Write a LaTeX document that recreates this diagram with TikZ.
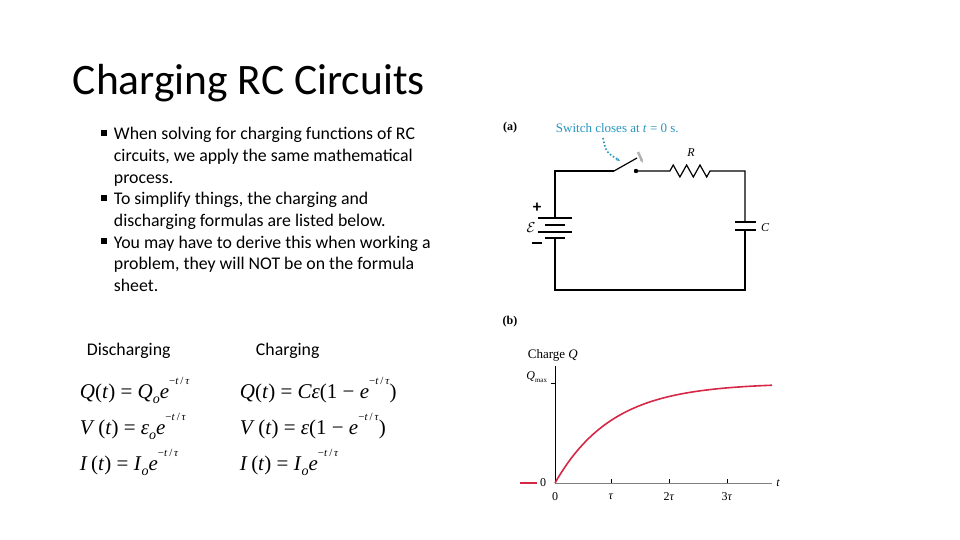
\documentclass[tikz,border=0pt]{standalone}
\usepackage{fontspec}
\setmainfont{Carlito}
\newfontfamily\figfont{Liberation Serif}
\usetikzlibrary{arrows.meta}
\definecolor{curvered}{RGB}{214,40,70}
\definecolor{noteblue}{RGB}{40,150,190}
\newcommand{\sub}[1]{\raisebox{-0.25em}{\fontsize{14}{14}\selectfont\textit{#1}}}
\newcommand{\expo}{\raisebox{0.62em}{\fontsize{11}{11}\selectfont −\textit{t}\,/\,\textit{τ}}}

\begin{document}
\begin{tikzpicture}[x=1pt,y=-1pt,line width=1.2pt,
  bullet text/.style={anchor=base west,font=\fontsize{17.8}{21}\selectfont},
  fig label/.style={font=\figfont\fontsize{13}{15}\selectfont},
  eq/.style={anchor=base west,font=\figfont\fontsize{21}{24}\selectfont}]
\useasboundingbox (0,0) rectangle (960,540);
% Title and bullets
\node[anchor=base west,font=\fontsize{43.5}{50}\selectfont] (title) at (69,95) {Charging RC Circuits};
\foreach \yb in {134,199,242}
  \fill (101,\yb-4) rectangle (107,\yb+2);
\foreach \txt [count=\i] in {When solving for charging functions of RC,
  circuits{,} we apply the same mathematical, process.,
  To simplify things{,} the charging and, discharging formulas are listed below.,
  You may have to derive this when working a, problem{,} they will NOT be on the formula, sheet.}
  \node[bullet text] (b\i) at (110,{118+\i*21.7}) {\txt};
\node[anchor=base west,font=\fontsize{17.8}{21}\selectfont] (dis) at (83,355) {Discharging};
\node[anchor=base west,font=\fontsize{17.8}{21}\selectfont] (chg) at (252,355) {Charging};
% Formulas
\node[eq] (q1) at (76,398) {\textit{Q}(\textit{t}) = \textit{Q}\sub{o}\textit{e}\expo};
\node[eq] (v1) at (76,434) {\textit{V}\,(\textit{t}) = \textit{ε}\sub{o}\textit{e}\expo};
\node[eq] (i1) at (76,470) {\textit{I}\,(\textit{t}) = \textit{I}\sub{o}\textit{e}\expo};
\node[eq] (q2) at (236,398) {\textit{Q}(\textit{t}) = \textit{Cε}(1 − \textit{e}\expo)};
\node[eq] (v2) at (236,434) {\textit{V}\,(\textit{t}) = \textit{ε}(1 − \textit{e}\expo)};
\node[eq] (i2) at (236,470) {\textit{I}\,(\textit{t}) = \textit{I}\sub{o}\textit{e}\expo};
% Circuit (a)
\node[fig label,font=\figfont\bfseries\fontsize{12}{14}\selectfont] (la) at (510,128) {(a)};
\node[fig label,text=noteblue,anchor=west] (note) at (552,128) {Switch closes at \textit{t} = 0 s.};
\coordinate (sw1) at (614,171);
\coordinate (sw2) at (636,171);
\draw (sw1) -- (555,171) -- (555,218);
\draw (555,237) -- (555,290) -- (745,290) -- (745,230);
\draw (745,222) -- (745,171) -- (710,171)
  -- ++(-3.3,6) -- ++(-6.7,-12) -- ++(-6.7,12) -- ++(-6.7,-12) -- ++(-6.7,12) -- ++(-6.7,-12) -- ++(-3.3,6)
  -- (sw2);
\draw (sw1) -- (637,158);
\fill (sw2) circle (2.2);
\draw[line width=1.6pt] (538,218) -- (572,218) (538,232) -- (572,232);
\draw[line width=2.6pt] (545,225) -- (565,225) (545,238) -- (565,238);
\draw[line width=1.6pt] (735,222) -- (756,222) (735,230) -- (756,230);
\node[font=\bfseries\fontsize{17}{18}\selectfont] (plus) at (537,208) {+};
\node[fig label,font=\fontsize{15}{16}\selectfont] (emf) at (531,228) {$\mathcal{E}$};
\draw[line width=1.8pt] (532,243) -- (542,243);
\node[fig label,font=\figfont\itshape\fontsize{12}{14}\selectfont] (lr) at (691,153) {R};
\node[fig label,font=\figfont\itshape\fontsize{12}{14}\selectfont] (lc) at (765,228) {C};
\draw[noteblue,line width=1.6pt,dotted,-{Stealth[length=4pt]}] (603,138) .. controls (606,152) .. (620,161);
\draw[gray!60,line width=2.5pt,-{Stealth[length=4pt]}] (638,152) -- (643,163);
% Graph (b)
\node[fig label,font=\figfont\bfseries\fontsize{12}{14}\selectfont] (lb) at (510,322) {(b)};
\node[fig label,anchor=west] (ylab) at (524,355) {Charge \textit{Q}};
\draw[line width=0.8pt] (555,366) -- (555,483);
\draw[line width=0.8pt,gray] (555,483) -- (772,483);
\draw[line width=0.8pt] (551,383) -- (555,383);
\node[fig label,anchor=east,font=\figfont\fontsize{12}{14}\selectfont] (qmax) at (551,377) {\textit{Q}\raisebox{-0.3em}{\fontsize{7}{7}\selectfont max}};
\node[fig label,font=\figfont\itshape\fontsize{12}{14}\selectfont] (tl) at (778,483) {t};
\foreach \xt/\lab in {555/0,611/\textit{τ},669/2\textit{τ},727/3\textit{τ}}{
  \draw[line width=0.8pt] (\xt,483) -- (\xt,479);
  \node[fig label,font=\figfont\fontsize{12}{14}\selectfont] at (\xt,497) {\lab};
}
\node[fig label,font=\figfont\fontsize{12}{14}\selectfont] (zero) at (543,483) {0};
\draw[curvered,line width=1.8pt] (520,483) -- (537,483);
\draw[curvered,line width=1.6pt] plot[domain=0:217,samples=80,smooth] (555+\x,{483-100*(1-exp(-\x/57))});
\end{tikzpicture}
\end{document}
